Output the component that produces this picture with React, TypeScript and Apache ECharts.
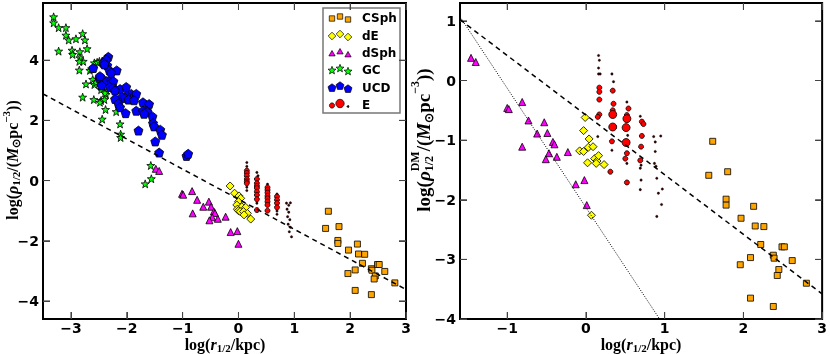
import React, { useEffect, useRef } from "react";
import * as echarts from "echarts";

// ---------- data ----------
const csph: number[][] = [
  [1.61, -1.02], [1.56, -1.59], [1.80, -1.53], [1.78, -1.99], [1.78, -2.09], [1.97, -2.31],
  [2.13, -2.11], [2.15, -2.44], [2.26, -2.45], [2.22, -2.75], [2.38, -2.93], [2.39, -2.98],
  [2.49, -2.79], [2.52, -2.79], [2.62, -3.02], [2.09, -2.97], [1.96, -3.09], [2.45, -3.17],
  [2.43, -3.27], [2.80, -3.40], [2.09, -3.65], [2.38, -3.79],
];

const dELeft: number[][] = [
  [-0.15, -0.18], [-0.07, -0.42], [0.01, -0.51], [0.04, -0.59], [0.0, -0.70], [-0.03, -0.81],
  [0.06, -0.87], [0.13, -0.89], [-0.02, -0.95], [0.0, -1.0], [0.03, -1.03], [0.09, -1.03],
  [0.16, -1.09], [0.10, -1.14], [0.22, -1.28],
];
const dERight: number[][] = [
  [-0.01, -0.62], [-0.03, -0.84], [0.04, -0.98], [-0.08, -1.18], [-0.03, -1.19], [0.03, -1.12],
  [0.09, -1.11], [0.02, -1.38], [0.11, -1.31], [0.14, -1.35], [0.16, -1.26], [0.13, -1.39],
  [0.23, -1.41], [0.07, -2.26],
];

const dSphLeft: number[][] = [
  [-1.48, 0.39], [-1.42, 0.32], [-1.01, -0.44], [-0.99, -0.47], [-0.83, -0.35], [-0.82, -1.09],
  [-0.74, -0.64], [-0.63, -0.87], [-0.53, -0.70], [-0.49, -0.87], [-0.44, -1.03], [-0.42, -1.08],
  [-0.47, -1.22], [-0.52, -1.32], [-0.37, -1.27], [-0.23, -1.20], [-0.14, -1.71], [-0.02, -1.68],
  [0.0, -2.10],
];
const dSphRight: number[][] = [
  [-1.46, 0.38], [-1.40, 0.31], [-1.0, -0.46], [-0.98, -0.48], [-0.81, -0.36], [-0.81, -1.11],
  [-0.73, -0.67], [-0.62, -0.89], [-0.53, -0.70], [-0.49, -0.88], [-0.42, -1.03], [-0.40, -1.07],
  [-0.47, -1.22], [-0.51, -1.32], [-0.37, -1.28], [-0.23, -1.20], [-0.13, -1.74], [-0.02, -1.67],
  [0.01, -2.09],
];

const gc: number[][] = [
  [-3.31, 5.44], [-3.31, 5.24], [-3.22, 5.08], [-3.09, 5.08], [-3.09, 4.83], [-3.04, 4.67],
  [-2.91, 4.71], [-2.79, 4.88], [-2.75, 4.67], [-2.71, 4.38], [-3.22, 4.30], [-2.98, 4.33],
  [-2.97, 4.19], [-2.84, 4.28], [-2.84, 4.08], [-2.78, 3.96], [-2.85, 3.96], [-2.85, 3.67],
  [-2.66, 3.66], [-2.58, 3.91], [-2.53, 3.93], [-2.49, 3.96], [-2.44, 3.97], [-2.73, 3.21],
  [-2.61, 3.36], [-2.58, 3.19], [-2.48, 3.24], [-2.46, 3.02], [-2.36, 3.11], [-2.37, 2.86],
  [-2.79, 2.77], [-2.59, 2.69], [-2.46, 2.66], [-2.40, 2.69], [-2.48, 2.60], [-2.38, 2.36],
  [-2.19, 2.29], [-2.44, 2.04], [-2.12, 1.88], [-2.11, 1.54], [-2.11, 1.43], [-1.57, 0.50],
  [-1.56, 0.06], [-1.67, -0.11], [-2.55, 3.27], [-2.63, 3.71], [-2.39, 2.91], [-2.46, 3.13],
];

const ucd: number[][] = [
  [-2.33, 4.11], [-2.37, 4.02], [-2.42, 3.91], [-2.35, 3.83], [-2.60, 3.74], [-2.18, 3.66],
  [-2.31, 3.66], [-2.49, 3.41], [-2.42, 3.36], [-2.36, 3.30], [-2.28, 3.33], [-2.24, 3.30],
  [-2.45, 3.16], [-2.30, 3.11], [-2.24, 3.08], [-2.12, 3.04], [-2.01, 3.11], [-1.92, 2.88],
  [-1.83, 2.88], [-2.01, 2.82], [-2.09, 2.77], [-2.21, 2.71], [-2.03, 2.74], [-1.97, 2.69],
  [-1.87, 2.67], [-2.15, 2.56], [-2.12, 2.44], [-2.02, 2.24], [-1.83, 2.32], [-1.71, 2.60],
  [-1.60, 2.54], [-1.71, 2.32], [-1.64, 2.32], [-1.63, 2.28], [-1.54, 2.13], [-1.69, 2.22],
  [-1.53, 1.91], [-1.51, 1.80], [-1.40, 1.69], [-1.37, 1.52], [-1.79, 1.66], [-1.49, 1.30],
  [-1.42, 0.93], [-0.93, 0.82], [-0.90, 0.89], [-2.21, 2.99], [-2.48, 3.47], [-2.40, 3.86],
  [-2.28, 3.58],
];

const eLeftSmall: number[][] = [
  [0.15, 0.33], [0.15, 0.25], [0.15, 0.16], [0.15, 0.05], [0.15, -0.03], [0.15, -0.09],
  [0.33, 0.05], [0.33, -0.09], [0.33, -0.18], [0.33, -0.25], [0.33, -0.37], [0.33, -0.48],
  [0.33, -0.62], [0.33, -0.98], [0.52, -0.23], [0.52, -0.31], [0.52, -0.40], [0.52, -0.51],
  [0.52, -0.59], [0.52, -0.70], [0.52, -0.81], [0.52, -1.0], [0.69, -0.53], [0.69, -0.64],
  [0.69, -0.75], [0.69, -0.89],
];
const eLeftDots: number[][] = [
  [0.15, 0.60], [0.15, 0.47], [0.15, -0.22], [0.15, -0.33], [0.33, 0.27], [0.35, 0.16],
  [0.33, -0.75], [0.52, -0.12], [0.69, -0.45], [0.69, -1.01], [0.69, -1.12], [0.86, -0.75],
  [0.90, -0.82], [0.93, -0.74], [0.87, -0.95], [0.90, -1.05], [0.88, -1.20], [0.92, -1.30],
  [0.89, -1.45], [0.93, -1.55], [0.91, -1.70], [0.95, -1.87],
];

const eRightDots: number[][] = [
  [0.16, 0.42], [0.17, 0.34], [0.16, 0.21], [0.16, 0.11], [0.18, 0.11], [0.15, -0.94],
  [0.33, 0.11], [0.35, -0.02], [0.33, -1.17], [0.52, -0.36], [0.53, -0.92], [0.52, -1.39],
  [0.69, -0.60], [0.70, -1.42], [0.69, -1.47], [0.70, -1.67], [0.69, -1.83], [0.86, -0.94],
  [0.88, -1.03], [0.95, -0.93], [0.88, -1.19], [0.87, -1.39], [0.89, -1.44], [0.90, -1.64],
  [0.92, -1.89], [0.97, -1.82], [0.96, -2.08], [0.90, -2.28],
];
const eRightSmall: number[][] = [
  [0.17, -0.12], [0.17, -0.19], [0.17, -0.32], [0.17, -0.57], [0.15, -0.61], [0.34, -0.17],
  [0.35, -0.39], [0.34, -0.50], [0.33, -1.02], [0.31, -1.53], [0.54, -0.47], [0.52, -0.58],
  [0.52, -1.22], [0.50, -1.31], [0.52, -1.71], [0.71, -0.69], [0.73, -0.73], [0.71, -0.93],
  [0.70, -1.11], [0.69, -1.34],
];
const eRightBig: number[][] = [
  [0.34, -0.57], [0.34, -0.78], [0.52, -0.64], [0.51, -0.79], [0.51, -1.04],
];

const dashedLeft: number[][] = [[-3.5, 2.88], [3.0, -3.62]];
const dashedRight: number[][] = [[-1.6, 1.02], [3.0, -3.58]];
const dottedRight: number[][] = [[-1.6, 1.07], [0.935, -4.0]];

const xTicksL = [-3, -2, -1, 0, 1, 2, 3];
const yTicksL = [-4, -2, 0, 2, 4];
const xTicksR = [-1, 0, 1, 2, 3];
const yTicksR = [-4, -3, -2, -1, 0, 1];

const xRangeL = [-3.5, 3];
const yRangeL = [-4.6, 5.9];
const xRangeR = [-1.6, 3];
const yRangeR = [-4, 1.3];

const legendNames = ["CSph", "dE", "dSph", "GC", "UCD", "E"];

// ---------- styling ----------
const C_ORANGE = "#FFA500";
const C_YELLOW = "#FFFF00";
const C_MAGENTA = "#FF00FF";
const C_GREEN = "#00FF00";
const C_BLUE = "#0000FF";
const C_RED = "#FF0000";
const TICK_FONT = "DejaVu Sans";
const MATH_FONT = "Liberation Serif";
const TICK_LEN = 7;

const STAR =
  "path://M0,-10L2.35,-3.24L9.51,-3.09L3.80,1.24L5.88,8.09L0,4L-5.88,8.09L-3.80,1.24L-9.51,-3.09L-2.35,-3.24Z";
const PENT = "path://M0,-10L9.51,-3.09L5.88,8.09L-5.88,8.09L-9.51,-3.09Z";

const fmt = (v: number) => (v < 0 ? "\u2212" + Math.abs(v) : String(v));

function measure(text: string, font: string): number {
  const c = document.createElement("canvas").getContext("2d");
  if (!c) return text.length * 8;
  c.font = font;
  return c.measureText(text).width;
}

type Piece = { t: string; size: number; italic?: boolean; dy?: number; stack?: boolean };

function mathGroup(pieces: Piece[], cx: number, cy: number, rotate: boolean) {
  let cursor = 0;
  let lastW = 0;
  const kids: any[] = [];
  pieces.forEach((p) => {
    const font = `${p.italic ? "italic " : ""}bold ${p.size}px "${MATH_FONT}"`;
    const w = measure(p.t, font);
    let x = cursor;
    if (p.stack) {
      x = cursor - lastW;
      cursor = x + Math.max(lastW, w);
    } else {
      cursor += w;
    }
    lastW = w;
    kids.push({
      type: "text",
      x,
      y: p.dy || 0,
      style: { text: p.t, font, fill: "#000", textAlign: "left", textVerticalAlign: "middle" },
    });
  });
  const total = cursor;
  kids.forEach((k) => (k.x -= total / 2));
  return { type: "group", x: cx, y: cy, rotation: rotate ? Math.PI / 2 : 0, children: kids };
}

function axisPair(kind: "x" | "y", grid: number, range: number[], ticks: number[]) {
  const common = {
    type: "value",
    gridIndex: grid,
    min: range[0],
    max: range[1],
    axisLine: { show: false, onZero: false },
    splitLine: { show: false },
    axisTick: { show: true, inside: true, length: TICK_LEN, customValues: ticks, lineStyle: { color: "#444", width: 1 } },
  };
  const main = {
    ...common,
    position: kind === "x" ? "bottom" : "left",
    axisLabel: {
      show: true,
      customValues: ticks,
      formatter: (v: number) => fmt(v),
      fontFamily: TICK_FONT,
      fontWeight: "bold",
      fontSize: 14,
      lineHeight: 12,
      color: "#000",
      margin: kind === "x" ? 3 : 4,
    },
  };
  const opp = { ...common, position: kind === "x" ? "top" : "right", axisLabel: { show: false, customValues: ticks } };
  return [main, opp];
}

function starPts(cx: number, cy: number, R: number, r: number) {
  const pts: number[][] = [];
  for (let i = 0; i < 10; i++) {
    const a = -Math.PI / 2 + (i * Math.PI) / 5;
    const rad = i % 2 === 0 ? R : r;
    pts.push([cx + rad * Math.cos(a), cy + rad * Math.sin(a)]);
  }
  return pts;
}
function polyPts(cx: number, cy: number, R: number, n: number, rot: number) {
  const pts: number[][] = [];
  for (let i = 0; i < n; i++) {
    const a = rot + (i * 2 * Math.PI) / n;
    pts.push([cx + R * Math.cos(a), cy + R * Math.sin(a)]);
  }
  return pts;
}

function legendGraphic() {
  const x0 = 323, y0 = 8, w = 77, h = 105;
  const rowY = [18, 35.5, 53, 70, 87.5, 105];
  const mx = [332, 340, 348];
  const moff = [0.5, -1.5, 1.5];
  const edge = { stroke: "#000", lineWidth: 0.7 };
  const kids: any[] = [
    { type: "rect", shape: { x: x0, y: y0, width: w, height: h }, style: { fill: "#fff", stroke: "#777", lineWidth: 1.5 } },
  ];
  legendNames.forEach((name, i) => {
    const cy = rowY[i];
    mx.forEach((cx, j) => {
      const y = cy + moff[j];
      if (i === 0) kids.push({ type: "rect", shape: { x: cx - 2.7, y: y - 2.7, width: 5.4, height: 5.4 }, style: { fill: C_ORANGE, ...edge } });
      if (i === 1) kids.push({ type: "polygon", shape: { points: polyPts(cx, y, 3.8, 4, 0) }, style: { fill: C_YELLOW, ...edge } });
      if (i === 2) kids.push({ type: "polygon", shape: { points: polyPts(cx, y + 0.6, 3.6, 3, -Math.PI / 2) }, style: { fill: C_MAGENTA, ...edge } });
      if (i === 3) kids.push({ type: "polygon", shape: { points: starPts(cx, y, 4.2, 1.8) }, style: { fill: C_GREEN, ...edge } });
      if (i === 4) kids.push({ type: "polygon", shape: { points: polyPts(cx, y, 4.2, 5, -Math.PI / 2) }, style: { fill: C_BLUE, ...edge } });
      if (i === 5) {
        const r = [2.6, 4.2, 0.9][j];
        kids.push({ type: "circle", shape: { cx, cy: y, r }, style: { fill: j === 2 ? "#200" : C_RED, ...edge } });
      }
    });
    kids.push({
      type: "text",
      x: 362,
      y: cy,
      style: { text: name, font: `bold 12px "${TICK_FONT}"`, fill: "#000", textAlign: "left", textVerticalAlign: "middle" },
    });
  });
  return { type: "group", z: 100, children: kids };
}

function scatter(name: string, data: number[][], grid: number, symbol: string, size: number, color: string, bw = 0.8) {
  return {
    type: "scatter",
    name,
    xAxisIndex: grid * 2,
    yAxisIndex: grid * 2,
    data,
    symbol,
    symbolSize: size,
    itemStyle: { color, borderColor: "#000", borderWidth: bw, opacity: 1 },
    emphasis: { disabled: true },
  };
}
function lineSeries(data: number[][], grid: number, dash: any, width: number) {
  return {
    type: "line",
    xAxisIndex: grid * 2,
    yAxisIndex: grid * 2,
    data,
    symbol: "none",
    lineStyle: { color: "#000", width, type: dash },
    emphasis: { disabled: true },
  };
}

export default function App() {
  const ref = useRef<HTMLDivElement>(null);
  useEffect(() => {
    if (!ref.current) return;
    const chart = echarts.init(ref.current, undefined, { renderer: "svg" });
    const [xl, xlt] = axisPair("x", 0, xRangeL, xTicksL);
    const [xr, xrt] = axisPair("x", 1, xRangeR, xTicksR);
    const [yl, ylr] = axisPair("y", 0, yRangeL, yTicksL);
    const [yr, yrr] = axisPair("y", 1, yRangeR, yTicksR);

    const xName = (cx: number) =>
      mathGroup(
        [
          { t: "log(", size: 16 },
          { t: "r", size: 16, italic: true },
          { t: "1/2", size: 11, dy: 4 },
          { t: "/kpc)", size: 16 },
        ],
        cx,
        344,
        false
      );

    const graphics: any[] = [
      legendGraphic(),
      xName(225),
      xName(641),
      mathGroup(
        [
          { t: "log(", size: 16 },
          { t: "\u03C1", size: 16, italic: true },
          { t: "1/2", size: 11, dy: 4 },
          { t: "/(", size: 16 },
          { t: "M", size: 16, italic: true },
          { t: "\u2299", size: 11, dy: 4 },
          { t: "pc", size: 16 },
          { t: "\u22123", size: 11, dy: -6 },
          { t: "))", size: 16 },
        ],
        12,
        160,
        true
      ),
      mathGroup(
        [
          { t: "log(", size: 19 },
          { t: "\u03C1", size: 19, italic: true },
          { t: "DM", size: 12, dy: -8 },
          { t: "1/2", size: 12, dy: 6, stack: true },
          { t: "/(", size: 19 },
          { t: "M", size: 19, italic: true },
          { t: "\u2299", size: 12, dy: 6 },
          { t: "pc", size: 19 },
          { t: "\u22123", size: 12, dy: -8 },
          { t: "))", size: 19 },
        ],
        423,
        140,
        true
      ),
    ];

    const option: any = {
      animation: false,
      grid: [
        { left: 43, top: 3, width: 363, height: 316, show: true, borderColor: "#000", borderWidth: 2, backgroundColor: "transparent" },
        { left: 460, top: 3, width: 364, height: 316, show: true, borderColor: "#000", borderWidth: 2, backgroundColor: "transparent" },
      ],
      xAxis: [xl, xlt, xr, xrt],
      yAxis: [yl, ylr, yr, yrr],
      series: [
        lineSeries(dashedLeft, 0, [5, 4], 1.5),
        scatter("CSph", csph, 0, "rect", 6, C_ORANGE),
        scatter("dE", dELeft, 0, "diamond", 8, C_YELLOW),
        scatter("dSph", dSphLeft, 0, "triangle", 7, C_MAGENTA),
        scatter("GC", gc, 0, STAR, 8, C_GREEN),
        scatter("UCD", ucd, 0, PENT, 9, C_BLUE),
        scatter("E dots", eLeftDots, 0, "circle", 2.5, "#300", 0.3),
        scatter("E", eLeftSmall, 0, "circle", 5, C_RED),
        lineSeries(dashedRight, 1, [5, 4], 1.5),
        lineSeries(dottedRight, 1, [1, 1.5], 1),
        scatter("CSph", csph, 1, "rect", 6, C_ORANGE),
        scatter("dE", dERight, 1, "diamond", 8, C_YELLOW),
        scatter("dSph", dSphRight, 1, "triangle", 7, C_MAGENTA),
        scatter("E dots", eRightDots, 1, "circle", 2.5, "#300", 0.3),
        scatter("E", eRightSmall, 1, "circle", 5, C_RED),
        scatter("E big", eRightBig, 1, "circle", 8, C_RED),
      ],
    };
    // first pass: axes and series only (graphic is set once, below)
    chart.setOption(option);

    // tick marks on all four sides, positioned through the axes' own scales
    const tickKids: any[] = [];
    try {
      const addTicks = (g: number, xt: number[], yt: number[], xrg: number[], yrg: number[]) => {
        const finder = { xAxisIndex: g * 2, yAxisIndex: g * 2 };
        const pt = (x: number, y: number) => chart.convertToPixel(finder as any, [x, y]) as unknown as number[];
        xt.forEach((v) => {
          const b = pt(v, yrg[0]);
          const t = pt(v, yrg[1]);
          if (b && t) {
            tickKids.push({ type: "line", shape: { x1: b[0], y1: b[1], x2: b[0], y2: b[1] - TICK_LEN }, style: { stroke: "#444", lineWidth: 1 } });
            tickKids.push({ type: "line", shape: { x1: t[0], y1: t[1], x2: t[0], y2: t[1] + TICK_LEN }, style: { stroke: "#444", lineWidth: 1 } });
          }
        });
        yt.forEach((v) => {
          const l = pt(xrg[0], v);
          const r = pt(xrg[1], v);
          if (l && r) {
            tickKids.push({ type: "line", shape: { x1: l[0], y1: l[1], x2: l[0] + TICK_LEN, y2: l[1] }, style: { stroke: "#444", lineWidth: 1 } });
            tickKids.push({ type: "line", shape: { x1: r[0], y1: r[1], x2: r[0] - TICK_LEN, y2: r[1] }, style: { stroke: "#444", lineWidth: 1 } });
          }
        });
      };
      addTicks(0, xTicksL, yTicksL, xRangeL, yRangeL);
      addTicks(1, xTicksR, yTicksR, xRangeR, yRangeR);
    } catch (e) {
      // keep the rest of the chart if tick placement fails
    }
    chart.setOption({ graphic: [...graphics, { type: "group", z: 50, children: tickKids }] });

    return () => chart.dispose();
  }, []);
  return <div ref={ref} style={{ position: "fixed", left: 0, top: 0, width: 830, height: 354 }} />;
}
